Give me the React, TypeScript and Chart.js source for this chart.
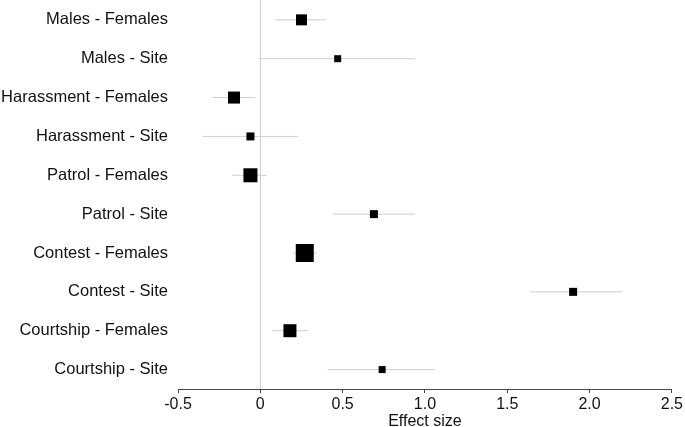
import React, { useEffect, useRef } from "react";
import { Chart, registerables } from "chart.js";

Chart.register(...registerables);

const categories = [
  "Males - Females",
  "Males - Site",
  "Harassment - Females",
  "Harassment - Site",
  "Patrol - Females",
  "Patrol - Site",
  "Contest - Females",
  "Contest - Site",
  "Courtship - Females",
  "Courtship - Site",
];
const effects = [0.25, 0.47, -0.16, -0.06, -0.06, 0.69, 0.27, 1.9, 0.18, 0.74];
const lower = [0.09, -0.01, -0.29, -0.35, -0.17, 0.44, 0.2, 1.64, 0.07, 0.41];
const upper = [0.4, 0.94, -0.03, 0.23, 0.04, 0.94, 0.34, 2.2, 0.29, 1.06];
const weights = [11, 7, 12, 8, 14, 8, 18, 8, 13, 7];
const xTicks = [-0.5, 0, 0.5, 1.0, 1.5, 2.0, 2.5];

const FONT = "Arial, 'Liberation Sans', sans-serif";

export default function App() {
  const ref = useRef<HTMLCanvasElement | null>(null);
  useEffect(() => {
    if (!ref.current) return;
    const pointData = categories.map((c, i) => ({ x: effects[i], y: c }));
    const barSets = categories.map((c, i) => ({
      data: [
        { x: lower[i], y: c },
        { x: upper[i], y: c },
      ],
      showLine: true,
      borderColor: "#cfcfcf",
      borderWidth: 1,
      pointRadius: 0,
      order: 2,
    }));
    const chart = new Chart(ref.current, {
      type: "scatter",
      data: {
        datasets: [
          {
            data: pointData,
            pointStyle: "rect",
            pointRadius: weights.map((w) => w / Math.SQRT2),
            pointBackgroundColor: "#000",
            pointBorderWidth: 0,
            backgroundColor: "#000",
            clip: false,
            order: 1,
          } as any,
          ...(barSets as any[]),
        ],
      },
      options: {
        animation: false,
        responsive: false,
        layout: { autoPadding: false, padding: { top: 0, left: 0, bottom: 0 } },
        plugins: { legend: { display: false }, tooltip: { enabled: false } },
        scales: {
          x: {
            type: "linear",
            min: xTicks[0],
            max: xTicks[xTicks.length - 1],
            afterBuildTicks: (s: any) => {
              s.ticks = xTicks.map((v) => ({ value: v }));
            },
            afterFit: (s: any) => {
              s.height = 38;
            },
            ticks: {
              padding: 2,
              color: "#111",
              font: { family: FONT, size: 16 },
              callback: (v: any) => (Number(v) === 0 ? "0" : Number(v).toFixed(1)),
            },
            grid: {
              color: (ctx: any) => (ctx.tick && ctx.tick.value === 0 ? "#d0d0d0" : "rgba(0,0,0,0)"),
              tickColor: "#444",
              tickLength: 4,
              lineWidth: 1,
            },
            border: { display: true, color: "#444", width: 1 },
            title: {
              display: true,
              text: "Effect size",
              color: "#111",
              font: { family: FONT, size: 16, lineHeight: 1 },
              padding: { top: 0, bottom: -3 },
            },
          },
          y: {
            type: "category",
            labels: categories,
            offset: true,
            afterFit: (s: any) => {
              s.width = 178;
            },
            ticks: {
              padding: 0,
              color: "#111",
              font: { family: FONT, size: 16.5, lineHeight: 0.05 },
            },
            grid: { display: false, drawTicks: true, tickLength: 10 },
            border: { display: false },
          },
        },
      } as any,
    });
    return () => chart.destroy();
  }, []);
  return (
    <div style={{ position: "fixed", left: 0, top: 0, width: 685, height: 427, background: "#fff" }}>
      <canvas ref={ref} width={685} height={427} style={{ display: "block" }} />
    </div>
  );
}
